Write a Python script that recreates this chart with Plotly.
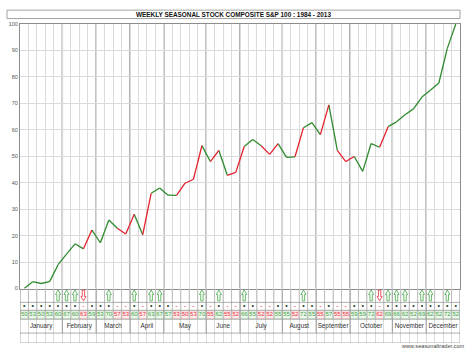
import plotly.graph_objects as go

# ---------------- data ----------------
months = ["January", "February", "March", "April", "May", "June", "July",
          "August", "September", "October", "November", "December"]
month_weeks = [5, 4, 4, 4, 5, 4, 5, 4, 4, 5, 4, 4]

composite = [0, 2.6, 1.9, 2.6, 9.0, 13.0, 16.9, 15.0, 22.1, 17.3,
             25.9, 22.8, 20.6, 28.1, 20.3, 36.0, 38.0, 35.3, 35.2, 39.8,
             41.3, 54.0, 48.0, 52.2, 42.8, 43.9, 53.7, 56.3, 54.0, 50.7,
             54.8, 49.6, 49.8, 60.8, 62.7, 58.2, 69.4, 52.2, 48.0, 49.9,
             44.3, 54.8, 53.4, 61.2, 63.0, 65.7, 67.9, 72.4, 75.0, 77.7,
             90.8, 100]

pct_years = [50, 53, 50, 53, 60, 67, 60, 63, 59, 53,
             70, 57, 53, 60, 57, 63, 67, 57, 53, 50,
             53, 70, 55, 62, 55, 52, 66, 55, 52, 52,
             55, 55, 52, 72, 55, 55, 57, 55, 55, 59,
             59, 72, 62, 69, 66, 62, 52, 69, 62, 52,
             72, 52]

week_dir = list("GGGGGGGRGG" "GRRGRGGGRR" "RGRGRRGGRR" "GGRGGRGRRG" "GGRGGGGGGG" "GG")

y_ticks = [0, 10, 20, 30, 40, 50, 60, 70, 80, 90, 100]
title = "WEEKLY SEASONAL STOCK COMPOSITE S&P 100 : 1984 - 2013"
footer = "www.seasonaltrader.com"

# ---------------- style ----------------
GREEN = "#2f8a2f"
RED = "#e5222e"
TXT_G = "#3f9f3f"
TXT_R = "#e6303a"
FONT = "Liberation Sans, Arial, sans-serif"

W, H = 474, 355
ML, MR, MT, MB = 20, 14, 24, 9
plot_h = H - MT - MB
table_px = 55                      # table height in px below chart
chart_bottom = table_px / plot_h   # paper fraction

n = len(composite)
weeks = list(range(n))

fig = go.Figure()

# coloured line segments (segment i coloured by week i direction)
seg = {"G": ([], []), "R": ([], [])}
for i in range(n - 1):
    xs, ys = seg[week_dir[i]]
    xs += [weeks[i], weeks[i + 1], None]
    ys += [composite[i], composite[i + 1], None]
for key, col in (("G", GREEN), ("R", RED)):
    fig.add_trace(go.Scatter(x=seg[key][0], y=seg[key][1], mode="lines",
                             line=dict(color=col, width=1.3),
                             hoverinfo="skip", showlegend=False))

shapes = []
# month boundaries
bounds = [-0.5]
for m in month_weeks:
    bounds.append(bounds[-1] + m)
for b in bounds[1:-1]:
    shapes.append(dict(type="line", xref="x", yref="y", x0=b, x1=b, y0=0, y1=100,
                       line=dict(color="#9a9a9a", width=1.5), layer="below"))
    shapes.append(dict(type="line", xref="x", yref="y2", x0=b, x1=b, y0=0, y1=45,
                       line=dict(color="#9a9a9a", width=1)))

# table grid
for w in range(n + 1):
    b = w - 0.5
    shapes.append(dict(type="line", xref="x", yref="y2", x0=b, x1=b, y0=0, y1=31,
                       line=dict(color="#b4b4b4", width=0.8)))
for yy in (14, 22, 31, 45, 55):
    shapes.append(dict(type="line", xref="x", yref="y2", x0=-0.5, x1=n - 0.5,
                       y0=yy, y1=yy, line=dict(color="#9a9a9a", width=0.8)))
for b in (-0.5, n - 0.5):
    shapes.append(dict(type="line", xref="x", yref="y2", x0=b, x1=b, y0=0, y1=55,
                       line=dict(color="#9a9a9a", width=0.8)))

# number cells
for i in weeks:
    g = week_dir[i] == "G"
    shapes.append(dict(type="rect", xref="x", yref="y2", x0=i - 0.45, x1=i + 0.45,
                       y0=22.6, y1=30.4, layer="below",
                       fillcolor="#eef8ee" if g else "#fdeeee",
                       line=dict(color="#a9d9a9" if g else "#f2b0b0", width=0.6)))

# arrows for strong weeks
for i in weeks:
    if pct_years[i] < 60:
        continue
    hw, sw = 0.3, 0.14
    if week_dir[i] == "G":
        tip, base, end = 1.5, 6.0, 12.5
        col = "#46a846"
    else:
        tip, base, end = 12.5, 8.0, 1.5
        col = "#e6303a"
    p = (f"M {i - sw},{end} L {i - sw},{base} L {i - hw},{base} L {i},{tip} "
         f"L {i + hw},{base} L {i + sw},{base} L {i + sw},{end} Z")
    shapes.append(dict(type="path", xref="x", yref="y2", path=p,
                       fillcolor="white", line=dict(color=col, width=0.8)))

# title box
px2fx = lambda px: (px - ML) / (W - ML - MR)
py2fy = lambda py: (H - MB - py) / plot_h
shapes.append(dict(type="rect", xref="paper", yref="paper",
                   x0=px2fx(7), x1=px2fx(460), y0=py2fy(18.5), y1=py2fy(10),
                   fillcolor="white", line=dict(color="#8a8a8a", width=0.8)))

# dots row
fig.add_trace(go.Scatter(
    x=weeks, y=[18] * n, xaxis="x", yaxis="y2", mode="text",
    text=["•" if d == "G" else "-" for d in week_dir],
    textfont=dict(family=FONT, size=7,
                  color=["#1f3f1f" if d == "G" else "#e6303a" for d in week_dir]),
    hoverinfo="skip", showlegend=False))

# percentage row
fig.add_trace(go.Scatter(
    x=weeks, y=[26.7] * n, xaxis="x", yaxis="y2", mode="text",
    text=[str(v) for v in pct_years],
    textfont=dict(family=FONT, size=6,
                  color=[TXT_G if d == "G" else TXT_R for d in week_dir]),
    hoverinfo="skip", showlegend=False, cliponaxis=False))

# month names
mx = [(bounds[k] + bounds[k + 1]) / 2 for k in range(len(months))]
fig.add_trace(go.Scatter(
    x=mx, y=[38.5] * len(months), xaxis="x", yaxis="y2", mode="text",
    text=months, textfont=dict(family=FONT, size=6.3, color="#333333"),
    hoverinfo="skip", showlegend=False))

annotations = [
    dict(text="<b>" + title.replace("&", "&amp;") + "</b>", xref="paper", yref="paper",
         x=px2fx(233), y=py2fy(14.2), showarrow=False,
         font=dict(family=FONT, size=6.4, color="#111111"),
         xanchor="center", yanchor="middle"),
    dict(text=footer, xref="paper", yref="paper", x=px2fx(467), y=py2fy(349.5),
         showarrow=False, font=dict(family=FONT, size=5.6, color="#444444"),
         xanchor="right", yanchor="middle"),
]

fig.update_layout(
    width=W, height=H,
    margin=dict(l=ML, r=MR, t=MT, b=MB),
    paper_bgcolor="white", plot_bgcolor="white",
    shapes=shapes, annotations=annotations,
    xaxis=dict(range=[-0.5, n - 0.5], tickvals=[w - 0.5 for w in range(n + 1)],
               showticklabels=False, ticks="", showgrid=True,
               gridcolor="#dadada", gridwidth=0.8, zeroline=False,
               showline=True, mirror=True, linecolor="#8c8c8c", linewidth=1,
               anchor="y", fixedrange=True),
    yaxis=dict(domain=[chart_bottom, 1], range=[0, 100], tickvals=y_ticks,
               ticktext=[str(t) for t in y_ticks],
               tickfont=dict(family=FONT, size=5.5, color="#555555"),
               ticks="", showgrid=True, gridcolor="#dadada", gridwidth=0.8,
               zeroline=False, showline=True, mirror=True,
               linecolor="#8c8c8c", linewidth=1, fixedrange=True),
    yaxis2=dict(domain=[0, chart_bottom], range=[table_px, 0], visible=False,
                anchor="x", fixedrange=True),
    showlegend=False,
)

fig.write_html("out.html")
